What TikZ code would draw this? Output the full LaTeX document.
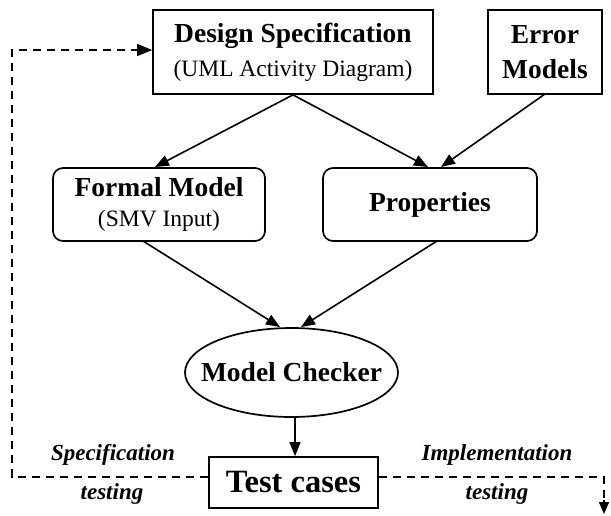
\documentclass[tikz,border=0pt]{standalone}
\usepackage{fontspec}
\setmainfont{Liberation Serif}
\usetikzlibrary{arrows.meta,shapes.geometric}

\newcommand{\headfont}{\fontsize{27.5}{34}\selectfont\bfseries}
\newcommand{\subfont}{\fontsize{23.5}{34}\selectfont\mdseries}

\tikzset{
  box/.style={draw, line width=1.7pt, inner sep=0pt, align=center, font=\headfont},
  rbox/.style={box, rounded corners=10pt},
  flow/.style={line width=1.6pt, -{Triangle[length=14pt,width=11pt]}},
  feedback/.style={line width=1.4pt, dash pattern=on 8pt off 6pt},
  note/.style={font=\fontsize{23}{26}\selectfont\bfseries\itshape, inner sep=0pt},
}

\begin{document}
\begin{tikzpicture}[x=1pt, y=-1pt]
  \useasboundingbox (0,0) rectangle (611,515);

  % inputs
  \node[box, minimum width=280pt, minimum height=84pt] (spec) at (293,52)
    {Design Specification\\{\subfont (UML Activity Diagram)}};
  \node[box, minimum width=114pt, minimum height=84pt] (err) at (545,52)
    {Error\\[1pt]Models};

  % derived artefacts
  \node[rbox, minimum width=212pt, minimum height=73pt] (formal) at (159,204.5)
    {Formal Model\\[-4pt]{\subfont (SMV Input)}};
  \node[rbox, minimum width=214pt, minimum height=73pt] (props) at (430,204.5)
    {Properties};

  % checker and its output (zero-width text box keeps the ellipse at its set size)
  \node[ellipse, draw, line width=1.7pt, inner sep=0pt, font=\headfont,
        minimum width=213pt, minimum height=89pt] (mc) at (291.5,372.5)
    {\makebox[0pt]{Model Checker}};
  \node[box, minimum width=169pt, minimum height=51pt,
        font=\fontsize{32.5}{36}\selectfont\bfseries] (tc) at (293.5,482.5)
    {Test cases};

  % solid flow
  \draw[flow] (spec.south) -- (155,167);
  \draw[flow] (spec.south) -- (428,167);
  \draw[flow] (545,94) -- (441,167);
  \draw[flow] (143,241) -- (280,327);
  \draw[flow] (437,241) -- (301,327);
  \draw[flow] (mc.south -| 295,0) -- (tc.north -| 295,0);

  % feedback loops
  \coordinate (lb) at (12,477);
  \coordinate (lt) at (12,50);
  \coordinate (rb) at (604,477);
  \coordinate (re) at (604,514);
  \draw[feedback] (tc.west |- lb) -- (lb) -- (lt) -- (lt -| 140,0);
  \draw[line width=1.4pt, -{Triangle[length=15pt,width=12pt]}] (140,50) -- (spec.west |- lt);
  \draw[feedback] (tc.east |- rb) -- (rb) -- (604,500);
  \draw[line width=1.4pt, -{Triangle[length=12pt,width=10pt]}] (604,500) -- (re);

  % loop labels
  \node[note] (sl1) at (113,455) {Specification};
  \node[note] (sl2) at (112,494) {testing};
  \node[note] (il1) at (497,455) {Implementation};
  \node[note] (il2) at (497,494) {testing};
\end{tikzpicture}
\end{document}
